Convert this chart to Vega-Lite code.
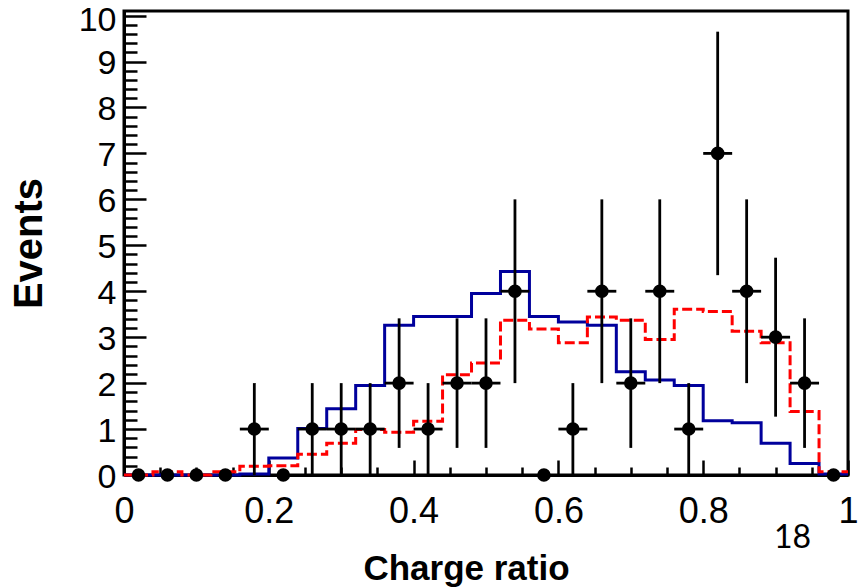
{
  "$schema": "https://vega.github.io/schema/vega-lite/v6.json",
  "width": 724,
  "height": 464,
  "autosize": {"type": "none"},
  "padding": {"left": 124, "top": 11, "right": 12, "bottom": 112},
  "background": "white",
  "config": {
    "view": {"stroke": "black", "strokeWidth": 3},
    "axis": {
      "grid": false,
      "labelFont": "Liberation Sans",
      "labelColor": "black",
      "labelOverlap": false,
      "labelFlush": false,
      "labelBound": false,
      "titleFont": "Liberation Sans",
      "titleFontWeight": "bold",
      "titleColor": "black",
      "domainColor": "black",
      "domainWidth": 3,
      "tickColor": "black",
      "tickWidth": 2.5,
      "tickSize": 0
    }
  },
  "datasets": {
    "hist": [
      {"edge": 0.00, "blue": 0.0, "red": 0.0},
      {"edge": 0.04, "blue": 0.0, "red": 0.07},
      {"edge": 0.08, "blue": 0.0, "red": 0.0},
      {"edge": 0.12, "blue": 0.0, "red": 0.07},
      {"edge": 0.16, "blue": 0.02, "red": 0.19},
      {"edge": 0.20, "blue": 0.37, "red": 0.20},
      {"edge": 0.24, "blue": 1.01, "red": 0.45},
      {"edge": 0.28, "blue": 1.44, "red": 0.69},
      {"edge": 0.32, "blue": 1.95, "red": 0.99},
      {"edge": 0.36, "blue": 3.26, "red": 0.93},
      {"edge": 0.40, "blue": 3.45, "red": 1.17},
      {"edge": 0.44, "blue": 3.45, "red": 2.18},
      {"edge": 0.48, "blue": 3.95, "red": 2.44},
      {"edge": 0.52, "blue": 4.43, "red": 3.37},
      {"edge": 0.56, "blue": 3.45, "red": 3.18},
      {"edge": 0.60, "blue": 3.33, "red": 2.88},
      {"edge": 0.64, "blue": 3.26, "red": 3.44},
      {"edge": 0.68, "blue": 2.25, "red": 3.37},
      {"edge": 0.72, "blue": 2.07, "red": 2.95},
      {"edge": 0.76, "blue": 1.95, "red": 3.61},
      {"edge": 0.80, "blue": 1.18, "red": 3.56},
      {"edge": 0.84, "blue": 1.14, "red": 3.13},
      {"edge": 0.88, "blue": 0.69, "red": 2.88},
      {"edge": 0.92, "blue": 0.25, "red": 1.38},
      {"edge": 0.96, "blue": 0.02, "red": 0.07},
      {"edge": 1.00, "blue": 0.02, "red": 0.07}
    ],
    "pts": [
      {"x": 0.02, "n": 0, "lo": 0, "hi": 0, "xlo": 0.00, "xhi": 0.04},
      {"x": 0.06, "n": 0, "lo": 0, "hi": 0, "xlo": 0.04, "xhi": 0.08},
      {"x": 0.10, "n": 0, "lo": 0, "hi": 0, "xlo": 0.08, "xhi": 0.12},
      {"x": 0.14, "n": 0, "lo": 0, "hi": 0, "xlo": 0.12, "xhi": 0.16},
      {"x": 0.18, "n": 1, "lo": 0, "hi": 2, "xlo": 0.16, "xhi": 0.20},
      {"x": 0.22, "n": 0, "lo": 0, "hi": 0, "xlo": 0.20, "xhi": 0.24},
      {"x": 0.26, "n": 1, "lo": 0, "hi": 2, "xlo": 0.24, "xhi": 0.28},
      {"x": 0.30, "n": 1, "lo": 0, "hi": 2, "xlo": 0.28, "xhi": 0.32},
      {"x": 0.34, "n": 1, "lo": 0, "hi": 2, "xlo": 0.32, "xhi": 0.36},
      {"x": 0.38, "n": 2, "lo": 0.59, "hi": 3.41, "xlo": 0.36, "xhi": 0.40},
      {"x": 0.42, "n": 1, "lo": 0, "hi": 2, "xlo": 0.40, "xhi": 0.44},
      {"x": 0.46, "n": 2, "lo": 0.59, "hi": 3.41, "xlo": 0.44, "xhi": 0.48},
      {"x": 0.50, "n": 2, "lo": 0.59, "hi": 3.41, "xlo": 0.48, "xhi": 0.52},
      {"x": 0.54, "n": 4, "lo": 2, "hi": 6, "xlo": 0.52, "xhi": 0.56},
      {"x": 0.58, "n": 0, "lo": 0, "hi": 0, "xlo": 0.56, "xhi": 0.60},
      {"x": 0.62, "n": 1, "lo": 0, "hi": 2, "xlo": 0.60, "xhi": 0.64},
      {"x": 0.66, "n": 4, "lo": 2, "hi": 6, "xlo": 0.64, "xhi": 0.68},
      {"x": 0.70, "n": 2, "lo": 0.59, "hi": 3.41, "xlo": 0.68, "xhi": 0.72},
      {"x": 0.74, "n": 4, "lo": 2, "hi": 6, "xlo": 0.72, "xhi": 0.76},
      {"x": 0.78, "n": 1, "lo": 0, "hi": 2, "xlo": 0.76, "xhi": 0.80},
      {"x": 0.82, "n": 7, "lo": 4.35, "hi": 9.65, "xlo": 0.80, "xhi": 0.84},
      {"x": 0.86, "n": 4, "lo": 2, "hi": 6, "xlo": 0.84, "xhi": 0.88},
      {"x": 0.90, "n": 3, "lo": 1.27, "hi": 4.73, "xlo": 0.88, "xhi": 0.92},
      {"x": 0.94, "n": 2, "lo": 0.59, "hi": 3.41, "xlo": 0.92, "xhi": 0.96},
      {"x": 0.98, "n": 0, "lo": 0, "hi": 0, "xlo": 0.96, "xhi": 1.00}
    ],
    "note": [
      {"label": "18", "px": 0.9233, "py": -1.59}
    ]
  },
  "layer": [
    {
      "data": {"name": "hist"},
      "mark": {"type": "line", "interpolate": "step-after", "color": "#00009c", "strokeWidth": 3},
      "encoding": {
        "x": {
          "field": "edge", "type": "quantitative",
          "scale": {"domain": [0, 1], "nice": false, "zero": false},
          "axis": {
            "title": "Charge ratio",
            "titleFontSize": 35,
            "titleX": 342,
            "titleY": 104,
            "titleBaseline": "alphabetic",
            "labelPadding": 19,
            "labelOverlap": false,
            "ticks": true,
            "tickCount": 200,
            "values": [0, 0.05, 0.1, 0.15, 0.2, 0.25, 0.3, 0.35, 0.4, 0.45, 0.5, 0.55, 0.6, 0.65, 0.7, 0.75, 0.8, 0.85, 0.9, 0.95, 1],
            "labelFontSize": {"condition": {"test": "abs(datum.value*5 - round(datum.value*5)) < 0.01", "value": 36}, "value": 0},
            "labelExpr": "abs(datum.value*5 - round(datum.value*5)) < 0.01 ? format(datum.value, '~g') : ''",
            "encoding": {"ticks": {"y2": {"condition": {"test": "abs(datum.value*5 - round(datum.value*5)) < 0.01", "value": -15}, "value": -8}}}
          }
        },
        "y": {
          "field": "blue", "type": "quantitative",
          "scale": {"domain": [0, 10.1], "nice": false, "zero": false},
          "axis": {
            "title": "Events",
            "titleFontSize": 40,
            "titleX": -83,
            "titleY": 232,
            "titleBaseline": "alphabetic",
            "labelPadding": 8,
            "labelOffset": {"condition": {"test": "datum.value > 9.9", "value": 5}, "value": 2},
            "labelOverlap": false,
            "ticks": true,
            "tickCount": 200,
            "values": [0, 0.2, 0.4, 0.6, 0.8, 1, 1.2, 1.4, 1.6, 1.8, 2, 2.2, 2.4, 2.6, 2.8, 3, 3.2, 3.4, 3.6, 3.8, 4, 4.2, 4.4, 4.6, 4.8, 5, 5.2, 5.4, 5.6, 5.8, 6, 6.2, 6.4, 6.6, 6.8, 7, 7.2, 7.4, 7.6, 7.8, 8, 8.2, 8.4, 8.6, 8.8, 9, 9.2, 9.4, 9.6, 9.8, 10],
            "labelFontSize": {"condition": {"test": "abs(datum.value - round(datum.value)) < 0.01", "value": 34}, "value": 0},
            "labelExpr": "abs(datum.value - round(datum.value)) < 0.01 ? format(round(datum.value), 'd') : ''",
            "encoding": {"ticks": {"x2": {"condition": {"test": "abs(datum.value - round(datum.value)) < 0.01", "value": 22}, "value": 13}}}
          }
        }
      }
    },
    {
      "data": {"name": "hist"},
      "mark": {"type": "line", "interpolate": "step-after", "color": "#ff0000", "strokeWidth": 3, "strokeDash": [10, 4]},
      "encoding": {
        "x": {"field": "edge", "type": "quantitative"},
        "y": {"field": "red", "type": "quantitative"}
      }
    },
    {
      "data": {"name": "pts"},
      "transform": [{"filter": "datum.n > 0"}],
      "mark": {"type": "rule", "color": "black", "strokeWidth": 2.8},
      "encoding": {
        "x": {"field": "x", "type": "quantitative"},
        "y": {"field": "lo", "type": "quantitative"},
        "y2": {"field": "hi"}
      }
    },
    {
      "data": {"name": "pts"},
      "transform": [{"filter": "datum.n > 0"}],
      "mark": {"type": "rule", "color": "black", "strokeWidth": 2.8},
      "encoding": {
        "x": {"field": "xlo", "type": "quantitative"},
        "x2": {"field": "xhi"},
        "y": {"field": "n", "type": "quantitative"}
      }
    },
    {
      "data": {"name": "pts"},
      "mark": {"type": "circle", "color": "black", "opacity": 1, "size": 185},
      "encoding": {
        "x": {"field": "x", "type": "quantitative"},
        "y": {"field": "n", "type": "quantitative"}
      }
    },
    {
      "data": {"name": "note"},
      "mark": {"type": "text", "font": "Lato", "fontSize": 32, "color": "black", "align": "center", "baseline": "alphabetic"},
      "encoding": {
        "x": {"field": "px", "type": "quantitative"},
        "y": {"field": "py", "type": "quantitative"},
        "text": {"field": "label"}
      }
    }
  ]
}
